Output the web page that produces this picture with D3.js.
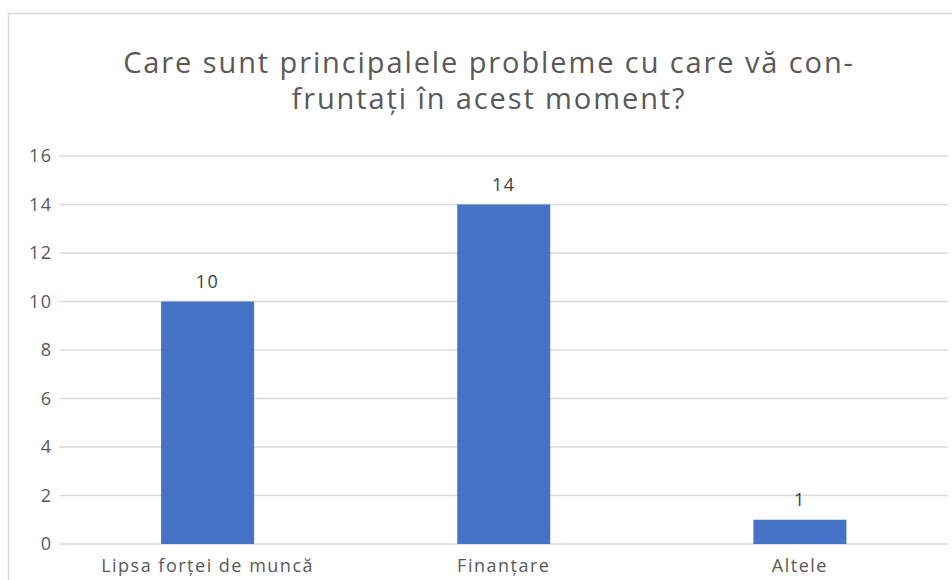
<!DOCTYPE html>
<html>
<head>
<meta charset="utf-8">
<script src="https://cdn.jsdelivr.net/npm/d3@7"></script>
<style>
  body { margin: 0; background: #fff; }
  text { font-family: "Open Sans", sans-serif; }
</style>
</head>
<body>
<div id="chart"></div>
<script>
// data
var categories = ["Lipsa forței de muncă", "Finanțare", "Altele"];
var values = [10, 14, 1];
var yTicks = [0, 2, 4, 6, 8, 10, 12, 14, 16];
var titleLines = ["Care sunt principalele probleme cu care vă con-", "fruntați în acest moment?"];

// set the dimensions and margins of the graph
var W = 952, H = 580;
var margin = {top: 156, right: 4, bottom: 36, left: 59.5},
    width = 948 - margin.left,
    height = 544 - margin.top;

var svg = d3.select("#chart")
  .append("svg")
    .attr("width", W)
    .attr("height", H);

// chart area border
svg.append("rect")
  .attr("x", 8.5)
  .attr("y", 13.5)
  .attr("width", 980)
  .attr("height", 640)
  .attr("fill", "none")
  .attr("stroke", "#d9d9d9")
  .attr("stroke-width", 1.5);

// title
svg.append("g").selectAll("text")
  .data(titleLines)
  .enter()
  .append("text")
    .attr("x", 489)
    .attr("y", function(d, i) { return 73 + i * 36 })
    .attr("text-anchor", "middle")
    .attr("fill", "#595959")
    .style("font-size", "29px")
    .style("letter-spacing", "1.9px")
    .text(function(d) { return d });

var chart = svg.append("g")
  .attr("transform", "translate(" + margin.left + "," + margin.top + ")");

// scales
var x = d3.scaleBand()
  .domain(categories)
  .range([0, width])
  .padding(0);
var barW = x.bandwidth() * 0.314;

var y = d3.scaleLinear()
  .domain([0, 16])
  .range([height, 0]);

// gridlines
chart.append("g")
  .selectAll("line")
  .data(yTicks)
  .enter()
  .append("line")
    .attr("x1", 0)
    .attr("x2", width)
    .attr("y1", function(d) { return y(d) })
    .attr("y2", function(d) { return y(d) })
    .attr("stroke", "#d9d9d9")
    .attr("stroke-width", 1.3);

// Y axis labels
var yAxis = chart.append("g")
  .call(d3.axisLeft(y).tickValues(yTicks).tickSize(0).tickPadding(7));
yAxis.select(".domain").remove();
yAxis.selectAll("text")
  .attr("fill", "#595959")
  .style("font-family", "'Open Sans', sans-serif")
  .style("font-size", "18px")
  .style("letter-spacing", "1.5px");

// X axis labels
var xAxis = chart.append("g")
  .attr("transform", "translate(0," + height + ")")
  .call(d3.axisBottom(x).tickSize(0).tickPadding(15));
xAxis.select(".domain").remove();
xAxis.selectAll("text")
  .attr("fill", "#595959")
  .style("font-family", "'Open Sans', sans-serif")
  .style("font-size", "18px")
  .style("letter-spacing", "1.5px");

// bars
chart.append("g")
  .selectAll("rect")
  .data(values)
  .enter()
  .append("rect")
    .attr("x", function(d, i) { return x(categories[i]) + x.bandwidth() / 2 - barW / 2 })
    .attr("y", function(d) { return y(d) })
    .attr("width", barW)
    .attr("height", function(d) { return height - y(d) })
    .attr("fill", "#4472c4");

// value labels
chart.append("g")
  .selectAll("text")
  .data(values)
  .enter()
  .append("text")
    .attr("x", function(d, i) { return x(categories[i]) + x.bandwidth() / 2 })
    .attr("y", function(d) { return y(d) - 14 })
    .attr("text-anchor", "middle")
    .attr("fill", "#404040")
    .style("font-size", "18px")
    .style("letter-spacing", "1.5px")
    .text(function(d) { return d });
</script>
</body>
</html>
